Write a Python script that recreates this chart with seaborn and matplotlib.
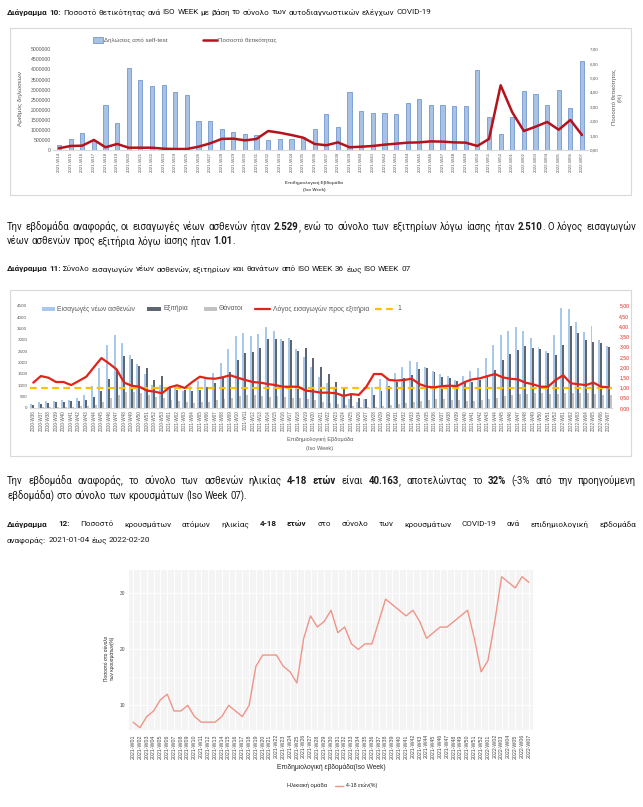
import numpy as np
import pandas as pd
import matplotlib
matplotlib.use("Agg")
import matplotlib.pyplot as plt
import seaborn as sns
from matplotlib.lines import Line2D
from matplotlib.patches import Rectangle

# ---------------- DATA ----------------
weeks10 = [f"2021-W{w:02d}" for w in range(14, 53)] + [f"2022-W{w:02d}" for w in range(1, 8)]
selftest_declarations = [250000, 530000, 860000, 450000, 2230000, 1320000, 4090000, 3480000, 3180000, 3230000,
                         2880000, 2750000, 1440000, 1440000, 1040000, 910000, 810000, 750000, 500000, 530000,
                         550000, 630000, 1040000, 1780000, 1160000, 2860000, 1920000, 1850000, 1850000, 1770000,
                         2320000, 2530000, 2250000, 2230000, 2200000, 2190000, 3970000, 1620000, 780000, 1660000,
                         2910000, 2760000, 2230000, 2960000, 2070000, 4420000]
positivity_pct = [0.12, 0.28, 0.30, 0.70, 0.19, 0.42, 0.16, 0.16, 0.16, 0.09,
                  0.07, 0.07, 0.23, 0.46, 0.77, 0.79, 0.67, 0.77, 1.32, 1.20,
                  1.04, 0.86, 0.42, 0.33, 0.53, 0.19, 0.23, 0.28, 0.37, 0.44,
                  0.51, 0.53, 0.60, 0.58, 0.53, 0.51, 0.28, 0.77, 4.50, 2.62,
                  1.32, 1.62, 1.95, 1.41, 2.09, 1.04]

weeks11 = ([f"2020-W{w:02d}" for w in range(36, 54)] + [f"2021-W{w:02d}" for w in range(1, 53)]
           + [f"2022-W{w:02d}" for w in range(1, 8)])
admissions = [190, 250, 300, 320, 360, 340, 420, 560, 950, 1780,
              2770, 3200, 2850, 2350, 1930, 1500, 1000, 1020, 900, 900,
              760, 950, 1200, 1350, 1550, 2000, 2580, 3150, 3300, 3150,
              3250, 3550, 3400, 3050, 3100, 2600, 2230, 1800, 1380, 1110,
              820, 510, 380, 275, 415, 930, 1260, 1340, 1540, 1810,
              2050, 2010, 1820, 1620, 1480, 1420, 1250, 1420, 1610, 1770,
              2180, 2790, 3200, 3400, 3580, 3370, 3070, 2700, 2500, 3220,
              4400, 4350, 3800, 3340, 3600, 3000, 2730]
discharges = [150, 160, 205, 250, 285, 305, 320, 365, 480, 730,
              1270, 1700, 2270, 2150, 1850, 1760, 1250, 1420, 890, 810,
              780, 750, 780, 930, 1080, 1330, 1580, 2130, 2420, 2480,
              2620, 3030, 3050, 2930, 2980, 2500, 2620, 2200, 1820, 1480,
              1140, 865, 560, 430, 400, 560, 760, 980, 1150, 1320,
              1430, 1720, 1750, 1600, 1380, 1300, 1170, 1120, 1150, 1220,
              1400, 1680, 2130, 2380, 2560, 2720, 2650, 2600, 2400, 2350,
              2750, 3600, 3280, 2980, 2900, 2880, 2700]
deaths = [20, 25, 35, 45, 50, 55, 70, 100, 150,
          260, 420, 560, 690, 700, 650, 560, 480, 420,
          340, 300, 260, 230, 250, 280, 330, 380, 450,
          520, 560, 560, 540, 500, 520, 500, 460, 430,
          380, 330, 280, 230, 170, 120, 80, 60, 50,
          60, 80, 120, 170, 220, 280, 320, 350, 380,
          380, 350, 330, 310, 320, 350, 400, 450, 520,
          560, 600, 620, 640, 650, 620, 600, 640, 680,
          680, 640, 620, 580, 560]
adm_dis_ratio = [1.24, 1.56, 1.48, 1.27, 1.27, 1.12, 1.32, 1.53, 1.99, 2.44,
                 2.18, 1.89, 1.24, 1.09, 1.04, 0.85, 0.80, 0.72, 1.01, 1.11,
                 0.98, 1.27, 1.53, 1.45, 1.43, 1.50, 1.60, 1.48, 1.37, 1.27,
                 1.24, 1.17, 1.12, 1.04, 1.04, 1.04, 0.85, 0.81, 0.75,
                 0.75, 0.72, 0.59, 0.68, 0.64, 1.04, 1.66, 1.66, 1.37, 1.34,
                 1.37, 1.43, 1.17, 1.04, 1.01, 1.07, 1.09, 1.07, 1.27, 1.40,
                 1.45, 1.56, 1.66, 1.50, 1.43, 1.40, 1.24, 1.16, 1.04, 1.04,
                 1.37, 1.60, 1.21, 1.16, 1.12, 1.24, 1.04, 1.01]
series11 = ["Εισαγωγές νέων ασθενών", "Εξιτήρια", "Θάνατοι"]

weeks12 = [f"2021-W{w:02d}" for w in range(1, 53)] + [f"2022-W{w:02d}" for w in range(1, 8)]
share_4_18 = [7, 6, 8, 9, 11, 12, 9, 9, 10, 8,
              7, 7, 7, 8, 10, 9, 8, 10, 17, 19,
              19, 19, 17, 16, 14, 22, 26, 24, 25, 27,
              23, 24, 21, 20, 21, 21, 25, 29, 28, 27,
              26, 27, 25, 22, 23, 24, 24, 25, 26, 27,
              22, 16, 18, 25, 33, 32, 31, 33, 32]

# ---------------- SETUP ----------------
sns.set_style("white")
CHART = ["Liberation Sans", "DejaVu Sans"]
DOC_FONT = ["Roboto", "DejaVu Sans"]
plt.rcParams["font.family"] = CHART

W, H = 643, 807
fig = plt.figure(figsize=(W / 100, H / 100), dpi=100, facecolor="white")
R = fig.canvas.get_renderer()


def fx(x):
    return x / W


def fy(y):
    return 1 - y / H


def px_axes(x0, y0, x1, y1):
    return fig.add_axes([fx(x0), fy(y1), (x1 - x0) / W, (y1 - y0) / H])


def tw(s, size, weight="normal", family=CHART):
    t = fig.text(0, 0, s, fontsize=size, fontweight=weight, family=family)
    w = t.get_window_extent(renderer=R).width
    t.remove()
    return w


def fit(s, width, weight="normal", family=CHART):
    return 10 * width / tw(s, 10, weight, family)


def seg_text(segs):
    return "".join(t for t, b in segs)


def draw_rich(y, segs, size, family, x0=7.0, x1=None):
    words = [[]]
    for txt, b in segs:
        parts = txt.split(" ")
        for j, p in enumerate(parts):
            if j > 0:
                words.append([])
            if p:
                words[-1].append((p, b))
    words = [w for w in words if w]
    widths = [[tw(p, size, "bold" if b else "normal", family) for p, b in w] for w in words]
    total = sum(sum(ws) for ws in widths)
    space = tw("a a", size, family=family) - tw("aa", size, family=family)
    gap = (x1 - x0 - total) / (len(words) - 1) if x1 is not None else space
    x = x0
    for w, ws in zip(words, widths):
        for (p, b), pw in zip(w, ws):
            fig.text(fx(x), fy(y), p, fontsize=size, fontweight="bold" if b else "normal",
                     family=family, color="#1a1a1a", ha="left", va="center")
            x += pw
        x += gap


# ---------------- DOCUMENT TEXT ----------------
T10 = [("Διάγραμμα 10:", True),
       (" Ποσοστό θετικότητας ανά ISO WEEK με βάση το σύνολο των αυτοδιαγνωστικών ελέγχων COVID-19", False)]
P1a = [("Την εβδομάδα αναφοράς, οι εισαγωγές νέων ασθενών ήταν ", False), ("2.529", True),
       (", ενώ το σύνολο των εξιτηρίων λόγω ίασης ήταν ", False), ("2.510", True),
       (".  Ο λόγος εισαγωγών", False)]
P1b = [("νέων ασθενών προς εξιτήρια λόγω ίασης ήταν ", False), ("1.01", True), (".", False)]
T11 = [("Διάγραμμα 11:", True),
       (" Σύνολο εισαγωγών νέων ασθενών, εξιτηρίων και θανάτων από ISO WEEK 36 έως ISO WEEK 07", False)]
P2a = [("Την εβδομάδα αναφοράς, το σύνολο των ασθενών ηλικίας ", False), ("4-18 ετών", True),
       (" είναι ", False), ("40.163", True), (", αποτελώντας το ", False), ("32%", True),
       (" (-3% από την προηγούμενη", False)]
P2b = [("εβδομάδα) στο σύνολο των κρουσμάτων (Iso Week 07).", False)]
T12a = [("Διάγραμμα 12:", True), (" Ποσοστό κρουσμάτων ατόμων ηλικίας ", False), ("4-18 ετών", True),
        (" στο σύνολο των κρουσμάτων COVID-19 ανά επιδημιολογική εβδομάδα", False)]
T12b = [("αναφοράς: 2021-01-04 έως 2022-02-20", False)]

TITLE_FS = fit(seg_text(T10), 420, "normal", DOC_FONT)
PARA_FS = fit(seg_text(P1a), 622, "normal", DOC_FONT)

draw_rich(12.5, T10, TITLE_FS, DOC_FONT)
draw_rich(227, P1a, PARA_FS, DOC_FONT, x1=636)
draw_rich(241.5, P1b, PARA_FS, DOC_FONT)
draw_rich(269, T11, TITLE_FS, DOC_FONT)
draw_rich(481, P2a, PARA_FS, DOC_FONT, x1=636)
draw_rich(496, P2b, PARA_FS, DOC_FONT)
draw_rich(524, T12a, TITLE_FS, DOC_FONT, x1=636)
draw_rich(540, T12b, TITLE_FS, DOC_FONT)

# chart frames
for (x0, y0, x1, y1) in [(10, 28, 631, 195), (10, 290, 631, 456)]:
    fig.add_artist(Rectangle((fx(x0), fy(y1)), (x1 - x0) / W, (y1 - y0) / H, transform=fig.transFigure,
                             fill=False, edgecolor="#D9D9D9", linewidth=0.8))

GREY = "#595959"


def excel_axes(ax):
    for s in ["top", "left", "right"]:
        ax.spines[s].set_visible(False)
    ax.spines["bottom"].set_color("#D9D9D9")
    ax.spines["bottom"].set_linewidth(0.8)
    ax.tick_params(length=0, colors=GREY, pad=1.5)
    ax.set_xlabel("")
    ax.set_ylabel("")
    ax.set_facecolor("none")


# ---------------- CHART 10 ----------------
ax10 = px_axes(53.2, 49.3, 587.8, 150)
sns.barplot(x=weeks10, y=selftest_declarations, ax=ax10, color="#A7C2E4", saturation=1, width=0.36,
            edgecolor="#5F8BC8", linewidth=0.5, errorbar=None)
ax10.set_xlim(-0.5, len(weeks10) - 0.5)
ax10.set_ylim(0, 5000000)
yt10 = list(range(0, 5000001, 500000))
ax10.set_yticks(yt10)
ax10.set_yticklabels([str(v) for v in yt10], fontsize=fit("5000000", 20))
ax10.set_xticks(range(len(weeks10)))
ax10.set_xticklabels(weeks10, rotation=90, fontsize=fit("2021-W14", 20))
excel_axes(ax10)
ax10b = ax10.twinx()
sns.lineplot(x=np.arange(len(weeks10)), y=positivity_pct, ax=ax10b, color="#B5121B", linewidth=1.8)
ax10b.set_ylim(0, 7)
ax10b.set_yticks(np.arange(0, 8))
ax10b.set_yticklabels([f"{v:.2f}".replace(".", ",") for v in np.arange(0, 8)], fontsize=fit("7,00", 8.7))
excel_axes(ax10b)
ax10b.spines["bottom"].set_visible(False)
ax10b.set_xlim(-0.5, len(weeks10) - 0.5)

fig.text(fx(20), fy(99), "Αριθμός δηλώσεων", rotation=90, ha="center", va="center",
         fontsize=fit("Αριθμός δηλώσεων", 55), color=GREY)
fig.text(fx(617), fy(97), "Ποσοστό θετικότητας\n(%)", rotation=90, ha="center", va="center",
         multialignment="center", fontsize=fit("Ποσοστό θετικότητας", 57), color=GREY, linespacing=1.1)
fs_xl10 = fit("Επιδημιολογική Εβδομάδα", 57, "bold")
fig.text(fx(314), fy(182.7), "Επιδημιολογική Εβδομάδα", ha="center", va="center", fontsize=fs_xl10,
         fontweight="bold", color=GREY)
fig.text(fx(314), fy(190.5), "(Iso Week)", ha="center", va="center", fontsize=fs_xl10, fontweight="bold", color=GREY)
fig.add_artist(Rectangle((fx(93), fy(43)), 10 / W, 6 / H, transform=fig.transFigure,
                         facecolor="#A7C2E4", edgecolor="#5F8BC8", linewidth=0.5))
fs_leg10 = fit("Δηλώσεις από self-test", 63)
fig.text(fx(104.5), fy(40), "Δηλώσεις από self-test", fontsize=fs_leg10, color=GREY, ha="left", va="center")
fig.add_artist(Line2D([fx(203), fx(217)], [fy(40), fy(40)], transform=fig.transFigure, color="#B5121B", lw=1.8))
fig.text(fx(218.5), fy(40), "Ποσοστό θετικότητας", fontsize=fs_leg10, color=GREY, ha="left", va="center")

# ---------------- CHART 11 ----------------
df11 = pd.DataFrame({
    "week": weeks11 * 3,
    "series": [series11[0]] * len(weeks11) + [series11[1]] * len(weeks11) + [series11[2]] * len(weeks11),
    "value": admissions + discharges + deaths,
})
pal11 = {series11[0]: "#A9C8EA", series11[1]: "#5E6673", series11[2]: "#C2C2C2"}
ax11 = px_axes(29.5, 305.7, 612.4, 408)
sns.barplot(data=df11, x="week", y="value", hue="series", order=weeks11, hue_order=series11, palette=pal11,
            saturation=1, width=0.78, errorbar=None, ax=ax11, legend=False, linewidth=0)
ax11.set_xlim(-0.5, len(weeks11) - 0.5)
ax11.set_ylim(0, 4500)
yt11 = list(range(0, 4501, 500))
ax11.set_yticks(yt11)
ax11.set_yticklabels([str(v) for v in yt11], fontsize=fit("4500", 10))
ax11.set_xticks(range(len(weeks11)))
ax11.set_xticklabels(weeks11, rotation=90, fontsize=fit("2020-W36", 21))
excel_axes(ax11)
ax11b = ax11.twinx()
ax11b.axhline(1, color="#FFC000", lw=1.6, ls=(0, (3, 2)))
sns.lineplot(x=np.arange(len(weeks11)), y=adm_dis_ratio, ax=ax11b, color="#E2231A", linewidth=1.6)
ax11b.set_ylim(0, 5)
rt11 = np.arange(0, 5.01, 0.5)
ax11b.set_yticks(rt11)
ax11b.set_yticklabels([f"{v:.2f}".replace(".", ",") for v in rt11], fontsize=fit("5,00", 10), color="#E2231A")
excel_axes(ax11b)
ax11b.tick_params(axis="y", colors="#E2231A", pad=5)
ax11b.spines["bottom"].set_visible(False)
ax11b.set_xlim(-0.5, len(weeks11) - 0.5)

fs_xl11 = fit("Επιδημιολογική Εβδομάδα", 66)
fig.text(fx(320), fy(439.5), "Επιδημιολογική Εβδομάδα", ha="center", va="center", fontsize=fs_xl11, color=GREY)
fig.text(fx(320), fy(448.5), "(Iso Week)", ha="center", va="center", fontsize=fs_xl11, color=GREY)
fs_leg11 = fit("Εισαγωγές νέων ασθενών", 78)
for (x0, x1, col), (tx, lab) in zip([(42, 55, pal11[series11[0]]), (147, 161, pal11[series11[1]]),
                                     (204, 217, pal11[series11[2]])],
                                    [(57, series11[0]), (163, series11[1]), (219, series11[2])]):
    fig.add_artist(Rectangle((fx(x0), fy(311)), (x1 - x0) / W, 4.5 / H, transform=fig.transFigure,
                             facecolor=col, edgecolor="none"))
    fig.text(fx(tx), fy(309), lab, fontsize=fs_leg11, color=GREY, ha="left", va="center")
fig.add_artist(Line2D([fx(255), fx(270)], [fy(309), fy(309)], transform=fig.transFigure, color="#E2231A", lw=1.6))
fig.text(fx(273), fy(309), "Λόγος εισαγωγών προς εξιτήρια", fontsize=fs_leg11, color=GREY, ha="left", va="center")
fig.add_artist(Line2D([fx(375), fx(393)], [fy(309), fy(309)], transform=fig.transFigure, color="#FFC000",
                      lw=1.6, ls=(0, (3, 2))))
fig.text(fx(397), fy(309), "1", fontsize=fs_leg11, color=GREY, ha="left", va="center")

# ---------------- CHART 12 ----------------
ax12 = px_axes(129, 570, 533, 730)
ax12.set_facecolor("#F4F4F4")
for s in ax12.spines.values():
    s.set_visible(False)
ax12.set_axisbelow(True)
ax12.set_xticks(range(len(weeks12)))
ax12.set_yticks([10, 20, 30])
ax12.set_yticks([5, 15, 25], minor=True)
ax12.grid(True, which="major", color="white", lw=0.7)
ax12.grid(True, which="minor", axis="y", color="white", lw=0.4)
sns.lineplot(x=np.arange(len(weeks12)), y=share_4_18, ax=ax12, color="#EF9488", linewidth=1.0)
ax12.set_xlim(-0.6, len(weeks12) - 0.4)
ax12.set_ylim(5.6, 34.2)
ax12.set_xticklabels(weeks12, rotation=90, fontsize=fit("2021-W01", 24))
ax12.set_yticklabels(["10", "20", "30"], fontsize=fit("30", 5.5))
ax12.tick_params(axis="both", which="major", length=2, width=0.5, color="#555555", labelcolor="#444444", pad=1)
ax12.tick_params(axis="both", which="minor", length=0)
ax12.set_xlabel("")
ax12.set_ylabel("")
fig.text(fx(109.5), fy(658), "Ποσοστό στο σύνολο\nτων κρουσμάτων(%)", rotation=90, ha="center", va="center",
         multialignment="center", fontsize=fit("Ποσοστό στο σύνολο", 45), color="#222222", linespacing=1.15)
fig.text(fx(331), fy(767), "Επιδημιολογική εβδομάδα(Iso Week)", ha="center", va="center",
         fontsize=fit("Επιδημιολογική εβδομάδα(Iso Week)", 108), color="#222222")
fig.text(fx(287), fy(785.5), "Ηλικιακή ομάδα", ha="left", va="center",
         fontsize=fit("Ηλικιακή ομάδα", 40), color="#222222")
fig.add_artist(Line2D([fx(335), fx(343)], [fy(785.5), fy(785.5)], transform=fig.transFigure,
                      color="#EF9488", lw=1.0))
fig.text(fx(345.5), fy(785.5), "4-18 ετών(%)", ha="left", va="center",
         fontsize=fit("4-18 ετών(%)", 31), color="#222222")

fig.savefig("out.png", dpi=100, facecolor="white")
